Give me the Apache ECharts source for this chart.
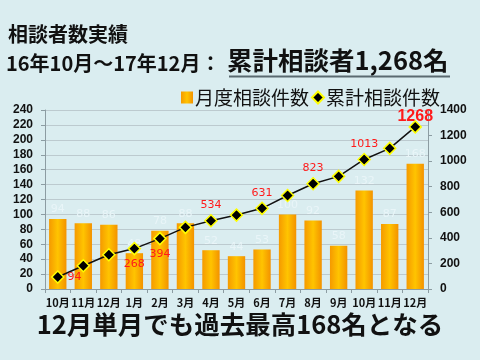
<!DOCTYPE html>
<html><head><meta charset="utf-8">
<script src="https://cdn.jsdelivr.net/npm/echarts@6/dist/echarts.min.js"></script>
<style>html,body{margin:0;padding:0;background:#daedf0;}#c{width:480px;height:360px;}</style>
</head><body><div id="c"></div>
<script>
const categories = ['10月','11月','12月','1月','2月','3月','4月','5月','6月','7月','8月','9月','10月','11月','12月'];
const monthly = [94,88,86,48,78,88,52,44,53,100,92,58,132,87,168];
const cumulative = [94,182,268,316,394,482,534,578,631,731,823,881,1013,1100,1268];
const cumLabels = ['94','','','268','394','','534','','631','','823','','1013','','1268'];
const cumLabelPos = ['right','','','bottom','bottom','','top','','top','','top','','top','','top'];
const leftTicks = {min:0, max:240, interval:20};
const rightTicks = {min:0, max:1400, interval:200};

const JP = '"Noto Sans CJK JP", sans-serif';
const NUM = '"Liberation Sans", "Noto Sans CJK JP", sans-serif';
const chart = echarts.init(document.getElementById('c'));

const lineData = cumulative.map((v,i)=>{
  const big = i === cumulative.length-1;
  return {
    value: v,
    label: {
      show: cumLabels[i] !== '',
      position: cumLabelPos[i] || 'top',
      formatter: cumLabels[i],
      color: '#ff1a1a',
      fontSize: big ? 16 : 11,
      fontWeight: big ? 'bold' : 'normal',
      fontFamily: big ? NUM : '"DejaVu Sans", sans-serif',
      distance: big ? -4 : 3
    }
  };
});

chart.setOption({
  backgroundColor: '#daedf0',
  animation: false,
  textStyle: {fontFamily: JP},
  grid: {left: 45, right: 52, top: 110, bottom: 71},
  legend: {
    top: 83, left: 176,
    itemGap: 2, itemWidth: 12, itemHeight: 12,
    textStyle: {fontSize: 19, fontFamily: JP, color: '#111', padding: [0,0,0,-3]},
    data: [
      {name: '月度相談件数', icon: 'rect'},
      {name: '累計相談件数', icon: 'diamond'}
    ]
  },
  graphic: [
    {type:'text', left: 8, top: 24, style:{text:'相談者数実績', font:'bold 20px "Noto Sans CJK JP"', fill:'#111'}},
    {type:'text', left: 6, top: 53, style:{text:'16年10月～17年12月：', font:'bold 20px "Noto Sans CJK JP"', fill:'#111'}},
    {type:'text', left: 227, top: 48, style:{text:'累計相談者1,268名', font:'bold 25.5px "Noto Sans CJK JP"', fill:'#111'}},
    {type:'line', shape:{x1:229, y1:76.5, x2:450, y2:76.5}, style:{stroke:'#5a6a70', lineWidth:2}},
    {type:'text', left: 'center', top: 312, style:{text:'12月単月でも過去最高168名となる', font:'bold 25.5px "Noto Sans CJK JP"', fill:'#111'}}
  ],
  xAxis: {
    type: 'category', data: categories,
    axisLine: {lineStyle: {color: '#8c9ca2'}},
    axisTick: {show: true, alignWithLabel: false, length: 4, lineStyle: {color: '#8c9ca2'}},
    axisLabel: {fontSize: 11, fontWeight: 'bold', color: '#111', margin: 8, interval: 0, fontFamily: JP}
  },
  yAxis: [
    {type: 'value', min: leftTicks.min, max: leftTicks.max, interval: leftTicks.interval,
     axisLine: {show: true, lineStyle: {color: '#8c9ca2'}},
     axisTick: {show: true, length: 4, lineStyle: {color: '#8c9ca2'}},
     splitLine: {lineStyle: {color: '#bccacf'}},
     axisLabel: {fontSize: 12, fontWeight: 'bold', color: '#111', margin: 12, fontFamily: NUM}},
    {type: 'value', min: rightTicks.min, max: rightTicks.max, interval: rightTicks.interval,
     axisLine: {show: true, lineStyle: {color: '#8c9ca2'}},
     axisTick: {show: true, length: 4, lineStyle: {color: '#8c9ca2'}},
     splitLine: {show: false},
     axisLabel: {fontSize: 12, fontWeight: 'bold', color: '#111', margin: 12, fontFamily: NUM,
       formatter: v => String(v)}}
  ],
  series: [
    {name: '月度相談件数', type: 'bar', yAxisIndex: 0, data: monthly, barWidth: '68%',
     itemStyle: {color: new echarts.graphic.LinearGradient(0,0,1,0,[
       {offset:0, color:'#f59a00'},{offset:0.5, color:'#ffc400'},{offset:1, color:'#f39200'}])},
     label: {show: true, position: 'top', color: '#e9f5f8', fontSize: 11, distance: 4, fontFamily: '"DejaVu Sans", sans-serif'}},
    {name: '累計相談件数', type: 'line', yAxisIndex: 1, data: lineData,
     symbol: 'diamond', symbolSize: 12,
     lineStyle: {color: '#111', width: 1.5},
     itemStyle: {color: '#000', borderColor: '#ffff00', borderWidth: 1.5},
     z: 5}
  ]
});
</script></body></html>
